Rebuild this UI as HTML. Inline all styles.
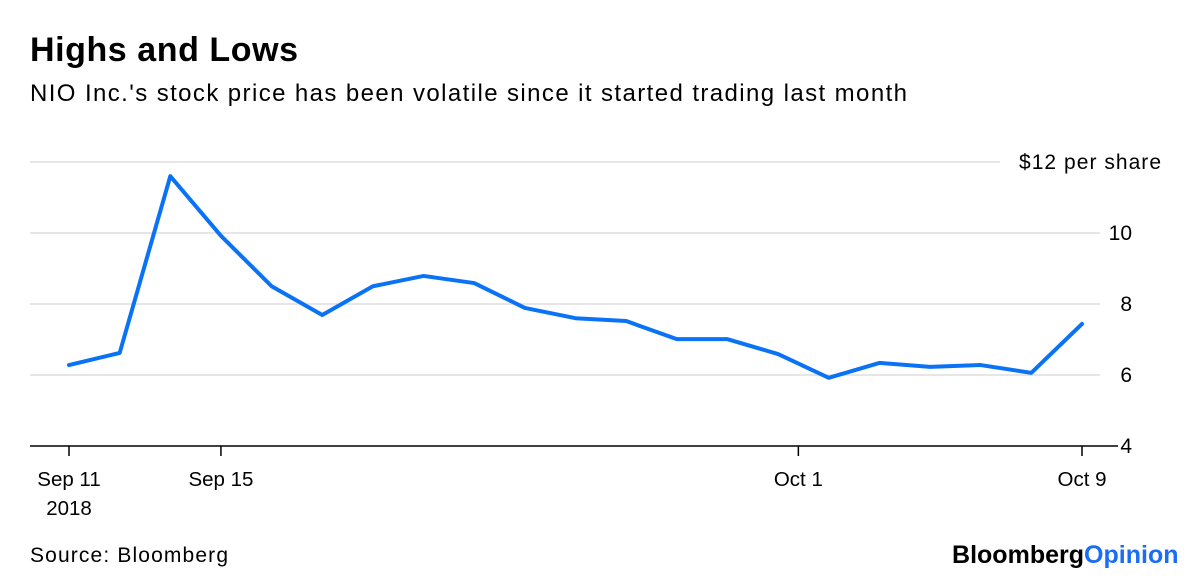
<!DOCTYPE html>
<html><head><meta charset="utf-8"><style>
body{margin:0;background:#fff;font-family:"Liberation Sans",Arial,sans-serif;}
#wrap{position:relative;width:1200px;height:582px;overflow:hidden;}
</style></head><body>
<div id="wrap">
<svg id="chart" width="1200" height="582"></svg>
</div>
<script>
const categories=["Sep 11","Sep 12","Sep 13","Sep 14","Sep 17","Sep 18","Sep 19","Sep 20","Sep 21","Sep 24","Sep 25","Sep 26","Sep 27","Sep 28","Oct 1","Oct 2","Oct 3","Oct 4","Oct 5","Oct 8","Oct 9"];
const prices=[6.28,6.62,11.6,9.92,8.5,7.69,8.5,8.79,8.59,7.89,7.6,7.52,7.01,7.01,6.59,5.92,6.34,6.23,6.28,6.06,7.44];
const yTicks=[4,6,8,10,12];
const yTickLabels=["4","6","8","10","$12 per share"];
const xTickPos=[0,3,14.4,20];
const xTickLabels=["Sep 11","Sep 15","Oct 1","Oct 9"];

const svg=document.getElementById('chart');
const NS="http://www.w3.org/2000/svg";
const x=i=>69+i*(1082-69)/20;
const y=v=>446-(v-4)*35.5;
function mk(t,a){const e=document.createElementNS(NS,t);for(const k in a)e.setAttribute(k,a[k]);svg.appendChild(e);return e;}
function txt(s,a){const e=mk('text',a);e.textContent=s;return e;}

let t=txt("Highs and Lows",{x:30,y:61,'font-size':34,'font-weight':'bold',fill:'#000',textLength:268});

t=txt("NIO Inc.'s stock price has been volatile since it started trading last month",{x:30,y:101,'font-size':24,fill:'#000',textLength:877});


yTicks.forEach((v,i)=>{
  if(v!==4){const g=mk('line',{x1:30,x2:i===yTicks.length-1?1000:1100,y1:y(v),y2:y(v),stroke:'#e6e6e6','stroke-width':2});
  }
  const l=txt(yTickLabels[i],{x:i===yTicks.length-1?1161:1132,y:y(v)+7,'font-size':21,'text-anchor':'end',fill:'#000'});
  if(i===yTicks.length-1)l.setAttribute('textLength',142);
  
});
const ax=mk('line',{x1:30,x2:1118,y1:446,y2:446,stroke:'#000','stroke-width':1.5});

xTickPos.forEach((p,i)=>{
  const tk=mk('line',{x1:x(p),x2:x(p),y1:446,y2:456,stroke:'#000','stroke-width':1.5});
  
  const l=txt(xTickLabels[i],{x:x(p),y:486,'font-size':20.5,'text-anchor':'middle',fill:'#000'});
  
});
t=txt("2018",{x:x(0),y:515,'font-size':20.5,'text-anchor':'middle',fill:'#000'});


const d=prices.map((v,i)=>(i?'L':'M')+x(i)+','+y(v)).join(' ');
const line=mk('path',{d:d,fill:'none',stroke:'#0a73f5','stroke-width':4,'stroke-linejoin':'round','stroke-linecap':'round'});


t=txt("Source: Bloomberg",{x:30,y:562,'font-size':21,fill:'#000',textLength:198});

t=mk('text',{x:952,y:563,'font-size':25,'font-weight':'bold','letter-spacing':'-0.5',textLength:226});
t.innerHTML='<tspan fill="#000">Bloomberg</tspan><tspan fill="#1a6ef5">Opinion</tspan>';

</script>
</body></html>
